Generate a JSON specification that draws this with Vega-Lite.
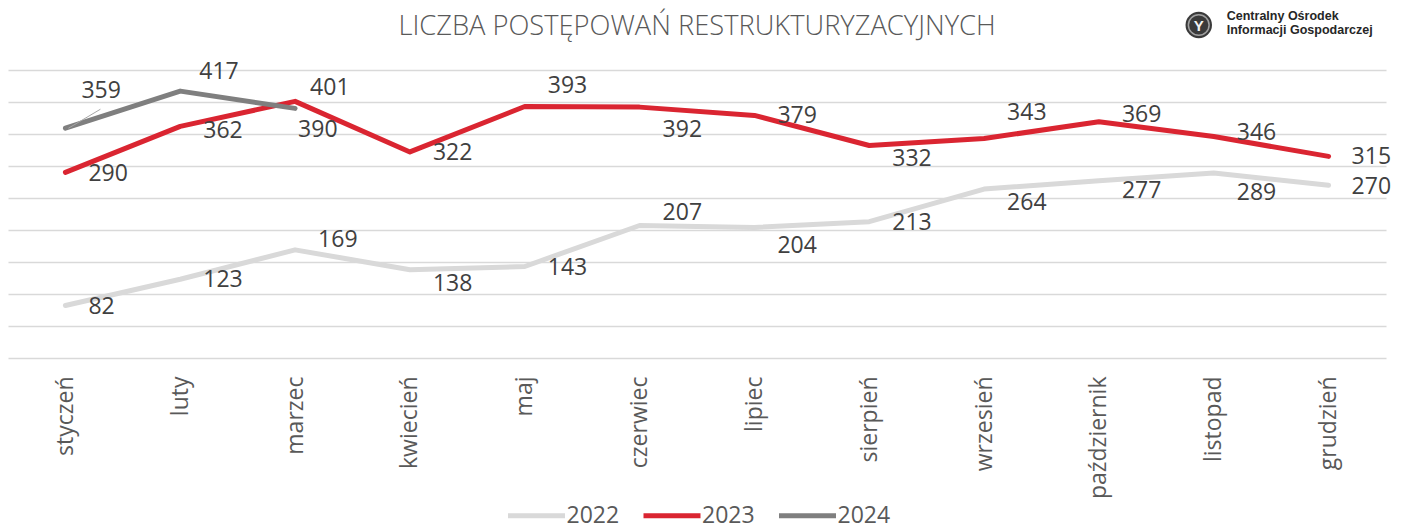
{
  "$schema": "https://vega.github.io/schema/vega-lite/v6.json",
  "width": 1378,
  "height": 288,
  "autosize": {"type": "none"},
  "padding": {"left": 8, "top": 70, "right": 21, "bottom": 172},
  "background": "white",
  "title": {
    "text": "LICZBA POSTĘPOWAŃ RESTRUKTURYZACYJNYCH",
    "font": "Open Sans",
    "fontSize": 27.3,
    "fontWeight": 300,
    "color": "#595959",
    "anchor": "middle",
    "frame": "group",
    "baseline": "alphabetic",
    "offset": -52
  },
  "config": {
    "view": {"stroke": null},
    "font": "Open Sans",
    "axisX": {
      "title": null,
      "labelAngle": -90,
      "labelFont": "Open Sans",
      "labelFontSize": 23,
      "labelColor": "#595959",
      "ticks": false,
      "tickSize": 0,
      "domain": false,
      "grid": false,
      "labelPadding": 18
    },
    "axisY": {
      "title": null,
      "labels": false,
      "ticks": false,
      "domain": false,
      "grid": true,
      "gridColor": "#d9d9d9",
      "gridWidth": 1.5,
      "tickCount": 9
    }
  },
  "datasets": {
    "counts": [
      {"year": "2022", "month": "styczeń", "value": 82},
      {"year": "2022", "month": "luty", "value": 123},
      {"year": "2022", "month": "marzec", "value": 169},
      {"year": "2022", "month": "kwiecień", "value": 138},
      {"year": "2022", "month": "maj", "value": 143},
      {"year": "2022", "month": "czerwiec", "value": 207},
      {"year": "2022", "month": "lipiec", "value": 204},
      {"year": "2022", "month": "sierpień", "value": 213},
      {"year": "2022", "month": "wrzesień", "value": 264},
      {"year": "2022", "month": "październik", "value": 277},
      {"year": "2022", "month": "listopad", "value": 289},
      {"year": "2022", "month": "grudzień", "value": 270},
      {"year": "2023", "month": "styczeń", "value": 290},
      {"year": "2023", "month": "luty", "value": 362},
      {"year": "2023", "month": "marzec", "value": 401},
      {"year": "2023", "month": "kwiecień", "value": 322},
      {"year": "2023", "month": "maj", "value": 393},
      {"year": "2023", "month": "czerwiec", "value": 392},
      {"year": "2023", "month": "lipiec", "value": 379},
      {"year": "2023", "month": "sierpień", "value": 332},
      {"year": "2023", "month": "wrzesień", "value": 343},
      {"year": "2023", "month": "październik", "value": 369},
      {"year": "2023", "month": "listopad", "value": 346},
      {"year": "2023", "month": "grudzień", "value": 315},
      {"year": "2024", "month": "styczeń", "value": 359},
      {"year": "2024", "month": "luty", "value": 417},
      {"year": "2024", "month": "marzec", "value": 390}
    ],
    "logo": [{"name": "Centralny Ośrodek Informacji Gospodarczej"}]
  },
  "layer": [
    {
      "data": {"name": "counts"},
      "mark": {"type": "line", "strokeWidth": 5, "strokeCap": "round", "strokeJoin": "round"},
      "encoding": {
        "x": {
          "field": "month",
          "type": "nominal",
          "title": null,
          "scale": {
            "type": "point",
            "padding": 0.5,
            "domain": ["styczeń", "luty", "marzec", "kwiecień", "maj", "czerwiec", "lipiec", "sierpień", "wrzesień", "październik", "listopad", "grudzień"]
          }
        },
        "y": {
          "field": "value",
          "type": "quantitative",
          "title": null,
          "scale": {"domain": [0, 450], "nice": false}
        },
        "color": {
          "field": "year",
          "type": "nominal",
          "scale": {"domain": ["2022", "2023", "2024"], "range": ["#d9d9d9", "#da2531", "#7f7f7f"]},
          "legend": {
            "title": null,
            "orient": "none",
            "direction": "horizontal",
            "legendX": 517,
            "legendY": 434,
            "symbolType": "M-4.75,0H4.75",
            "symbolStrokeWidth": 5,
            "symbolSize": 144,
            "labelFont": "Open Sans",
            "labelFontSize": 23,
            "labelColor": "#595959",
            "labelOffset": 18.5,
            "columnPadding": 13.5,
            "padding": 0
          }
        }
      }
    },
    {
      "data": {"name": "counts"},
      "transform": [{"filter": "datum.year == '2024' && datum.month == 'styczeń'"}],
      "mark": {"type": "rule", "color": "#a6a6a6", "strokeWidth": 1, "xOffset": 3, "x2Offset": 35, "yOffset": 0, "y2Offset": -19},
      "encoding": {
        "x": {"field": "month", "type": "nominal", "title": null},
        "x2": {"field": "month"},
        "y": {"field": "value", "type": "quantitative", "title": null},
        "y2": {"field": "value"}
      }
    },
    {
      "data": {"name": "counts"},
      "mark": {
        "type": "text",
        "font": "Open Sans",
        "fontSize": 23,
        "color": "#404040",
        "align": "left",
        "baseline": "middle",
        "dx": {"expr": "datum.year == '2024' ? (datum.month == 'styczeń' ? 16 : datum.month == 'luty' ? 19 : 3) : ((datum.year == '2023' && datum.month == 'marzec') ? 15 : 23)"},
        "dy": {"expr": "({'2022|styczeń': 1, '2022|luty': 1, '2022|marzec': -10, '2022|kwiecień': 14, '2022|maj': 2, '2022|czerwiec': -13, '2022|lipiec': 19, '2022|sierpień': 1, '2022|wrzesień': 14, '2022|październik': 10, '2022|listopad': 20, '2022|grudzień': 2, '2023|styczeń': 2, '2023|luty': 5, '2023|marzec': -13, '2023|kwiecień': 1, '2023|maj': -20, '2023|czerwiec': 23, '2023|lipiec': 1, '2023|sierpień': 13, '2023|wrzesień': -25, '2023|październik': -7, '2023|listopad': -4, '2023|grudzień': 1, '2024|styczeń': -37, '2024|luty': -19, '2024|marzec': 22})[datum.year + '|' + datum.month]"}
      },
      "encoding": {
        "x": {"field": "month", "type": "nominal", "title": null},
        "y": {"field": "value", "type": "quantitative", "title": null},
        "text": {"field": "value", "type": "quantitative"}
      }
    },
    {
      "data": {"name": "logo"},
      "mark": {"type": "point", "filled": true, "color": "#3a3a3a", "opacity": 1, "size": 700, "xOffset": -15, "yOffset": -45},
      "encoding": {
        "x": {"datum": "listopad", "type": "nominal", "title": null},
        "y": {"datum": 450, "type": "quantitative", "title": null}
      }
    },
    {
      "data": {"name": "logo"},
      "mark": {"type": "point", "filled": false, "stroke": "#a0a0a0", "strokeWidth": 1.5, "opacity": 1, "size": 430, "xOffset": -15, "yOffset": -45},
      "encoding": {
        "x": {"datum": "listopad", "type": "nominal", "title": null},
        "y": {"datum": 450, "type": "quantitative", "title": null}
      }
    },
    {
      "data": {"name": "logo"},
      "mark": {"type": "text", "font": "Liberation Sans", "fontWeight": "bold", "fontSize": 15, "color": "#f2f2f2", "align": "center", "baseline": "middle", "dx": -15, "dy": -44},
      "encoding": {
        "x": {"datum": "listopad", "type": "nominal", "title": null},
        "y": {"datum": 450, "type": "quantitative", "title": null},
        "text": {"value": "Y"}
      }
    },
    {
      "data": {"name": "logo"},
      "mark": {"type": "text", "font": "Liberation Sans", "fontWeight": "bold", "fontSize": 12.5, "color": "#262626", "align": "left", "baseline": "alphabetic", "dx": 13, "dy": -50, "lineHeight": 14.3},
      "encoding": {
        "x": {"datum": "listopad", "type": "nominal", "title": null},
        "y": {"datum": 450, "type": "quantitative", "title": null},
        "text": {"value": ["Centralny Ośrodek", "Informacji Gospodarczej"]}
      }
    }
  ]
}
